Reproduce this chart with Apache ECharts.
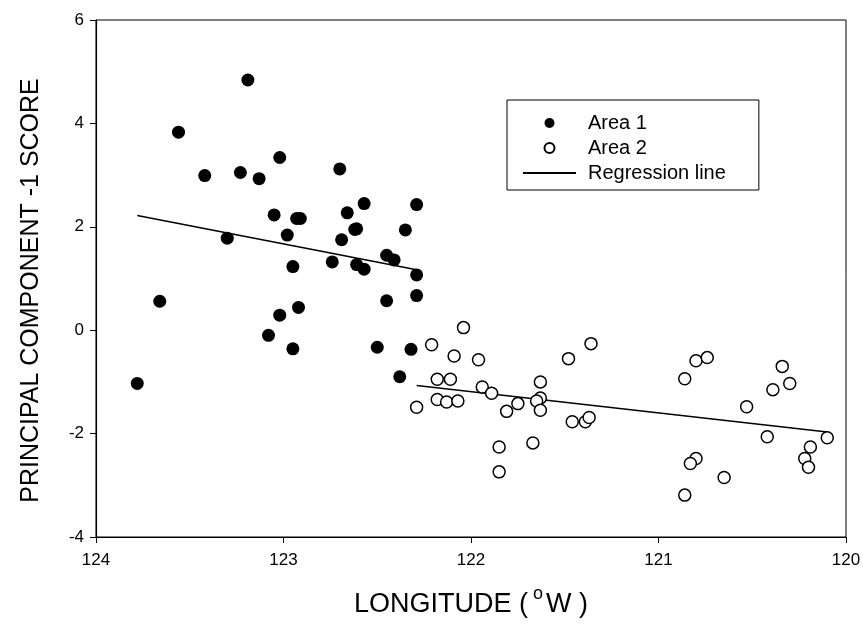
<!DOCTYPE html>
<html>
<head>
<meta charset="utf-8">
<script src="https://cdn.jsdelivr.net/npm/echarts@6/dist/echarts.min.js"></script>
<style>html,body{margin:0;padding:0;background:#fff;}#chart{width:863px;height:631px;}</style>
</head>
<body>
<div id="chart"></div>
<script>
// Area 1 (filled circles): [longitude °W, PC-1 score]
var area1 = [
  [123.19,4.84],[123.56,3.83],[123.02,3.34],[123.42,2.99],[123.23,3.05],[123.13,2.93],
  [122.70,3.12],[123.05,2.23],[122.93,2.16],[122.91,2.16],[122.98,1.84],[123.30,1.78],
  [122.95,1.23],[123.66,0.56],[122.92,0.44],[123.02,0.29],[123.08,-0.10],[122.95,-0.36],
  [123.78,-1.03],[122.57,2.45],[122.29,2.43],[122.66,2.27],[122.62,1.95],[122.61,1.96],
  [122.35,1.94],[122.69,1.75],[122.45,1.45],[122.41,1.36],[122.74,1.32],[122.61,1.27],
  [122.57,1.18],[122.29,1.07],[122.29,0.67],[122.45,0.57],[122.50,-0.33],[122.32,-0.37],
  [122.38,-0.90]
];
// Area 2 (open circles)
var area2 = [
  [122.04,0.05],[122.21,-0.28],[122.09,-0.50],[121.96,-0.57],[121.48,-0.55],[121.36,-0.26],
  [122.18,-0.95],[122.11,-0.95],[121.63,-1.00],[121.94,-1.10],[121.89,-1.22],[121.63,-1.31],
  [121.65,-1.37],[122.18,-1.34],[122.13,-1.39],[122.07,-1.37],[122.29,-1.49],[121.75,-1.42],
  [121.81,-1.57],[121.63,-1.55],[121.46,-1.77],[121.39,-1.77],[121.37,-1.69],[121.67,-2.18],
  [121.85,-2.26],[121.85,-2.74],[120.80,-0.59],[120.74,-0.53],[120.86,-0.94],[120.34,-0.70],
  [120.30,-1.03],[120.39,-1.15],[120.53,-1.48],[120.42,-2.06],[120.10,-2.08],[120.19,-2.26],
  [120.22,-2.48],[120.20,-2.65],[120.80,-2.48],[120.83,-2.58],[120.65,-2.85],[120.86,-3.19]
];
// Regression line end points
var regression1 = [[123.78,2.22],[122.29,1.17]];
var regression2 = [[122.29,-1.07],[120.10,-1.97]];
var xTicks = [120,121,122,123,124];
var yTicks = [-4,-2,0,2,4,6];
var seriesNames = ['Area 1','Area 2','Regression line'];

var FONT = 'Liberation Sans, Arial, sans-serif';
var chart = echarts.init(document.getElementById('chart'), null, {renderer:'canvas'});
chart.setOption({
  animation: false,
  backgroundColor: '#fff',
  grid: {left: 96, right: 17, top: 20, bottom: 94, show: true, borderColor: '#000', borderWidth: 1,
         containLabel: false, outerBoundsMode: 'none'},
  xAxis: {
    type: 'value', inverse: true,
    min: xTicks[0], max: xTicks[xTicks.length-1], interval: 1,
    axisLine: {show: true, onZero: false, lineStyle: {color: '#000', width: 1.2}},
    axisTick: {show: true, length: 6, lineStyle: {color: '#000'}},
    splitLine: {show: false},
    axisLabel: {color: '#000', fontSize: 17, fontFamily: FONT, margin: 15},
    name: '{a|LONGITUDE (}{s|o}{a|W )}',
    nameLocation: 'middle', nameGap: 48,
    nameTextStyle: {
      color: '#000', fontFamily: FONT,
      rich: {
        a: {fontSize: 27, fontFamily: FONT, color: '#000', lineHeight: 40},
        s: {fontSize: 18, fontFamily: FONT, color: '#000', verticalAlign: 'top', padding: [0, 3, 0, 5]}
      }
    }
  },
  yAxis: {
    type: 'value',
    min: yTicks[0], max: yTicks[yTicks.length-1], interval: 2,
    axisLine: {show: true, onZero: false, lineStyle: {color: '#000', width: 1.2}},
    axisTick: {show: true, length: 6, lineStyle: {color: '#000'}},
    splitLine: {show: false},
    axisLabel: {color: '#000', fontSize: 17, fontFamily: FONT, margin: 12},
    name: 'PRINCIPAL COMPONENT -1 SCORE',
    nameLocation: 'middle', nameGap: 52, nameRotate: 90,
    nameTextStyle: {color: '#000', fontSize: 25, fontFamily: FONT, padding: [0, 24, 0, 0]}
  },
  legend: {
    orient: 'vertical', left: 507, top: 100,
    data: seriesNames,
    itemWidth: 53, itemHeight: 10, itemGap: 5,
    padding: [13, 33, 7, 15],
    borderColor: '#000', borderWidth: 1,
    textStyle: {color: '#000', fontSize: 20, fontFamily: FONT, padding: [0, 0, 0, 7]},
    selectedMode: false
  },
  series: [
    {name: seriesNames[0], type: 'scatter', data: area1, symbol: 'circle', symbolSize: 13,
     itemStyle: {color: '#000', opacity: 1}, z: 3},
    {name: seriesNames[1], type: 'scatter', data: area2, symbol: 'circle', symbolSize: 12,
     itemStyle: {color: '#fff', borderColor: '#000', borderWidth: 1.5, opacity: 1}, z: 3},
    {name: seriesNames[2], type: 'line', data: regression1, symbol: 'none', showSymbol: false,
     itemStyle: {color: 'rgba(0,0,0,0)', borderWidth: 0},
     lineStyle: {color: '#000', width: 1.5}, z: 2},
    {name: seriesNames[2], type: 'line', data: regression2, symbol: 'none', showSymbol: false,
     itemStyle: {color: 'rgba(0,0,0,0)', borderWidth: 0},
     lineStyle: {color: '#000', width: 1.5}, z: 2}
  ]
});
</script>
</body>
</html>
